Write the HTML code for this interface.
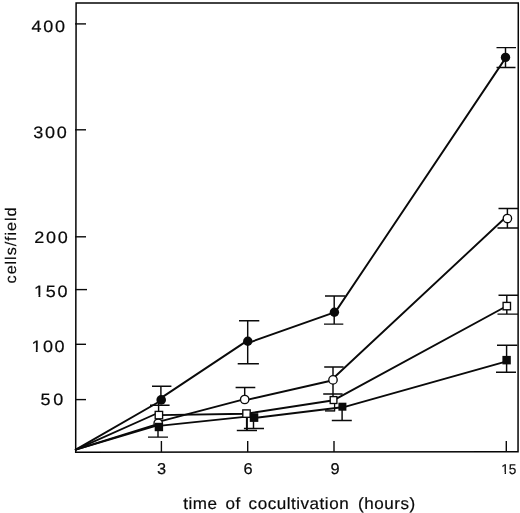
<!DOCTYPE html>
<html>
<head>
<meta charset="utf-8">
<title>cells/field vs time of cocultivation</title>
<style>
html,body{margin:0;padding:0;background:#fff;}
body{width:520px;height:513px;overflow:hidden;font-family:"Liberation Sans",sans-serif;}
svg{display:block;filter:grayscale(1);}
text{font-family:"Liberation Sans",sans-serif;fill:#0a0a0a;text-rendering:geometricPrecision;}
</style>
</head>
<body>
<svg width="520" height="513" viewBox="0 0 520 513">
<rect x="0" y="0" width="520" height="513" fill="#ffffff"/>

<!-- frame -->
<polygon points="76.1,2.9 518.3,2.9 518.05,451.85 75.7,452.2" fill="none" stroke="#050505" stroke-width="1.5" stroke-linejoin="miter"/>

<!-- y ticks -->
<g stroke="#0a0a0a" stroke-width="1.4" fill="none">
<line x1="75" y1="23.9" x2="86" y2="23.9"/>
<line x1="75" y1="129.8" x2="86" y2="129.8"/>
<line x1="75" y1="236.8" x2="86" y2="236.8"/>
<line x1="75" y1="289.6" x2="87" y2="289.6"/>
<line x1="75" y1="344.3" x2="86" y2="344.3"/>
<line x1="75" y1="399.6" x2="86" y2="399.6"/>
<!-- x ticks -->
<line x1="161.4" y1="441" x2="161.4" y2="452"/>
<line x1="247.7" y1="441" x2="247.7" y2="452"/>
<line x1="334" y1="441" x2="334" y2="452"/>
<line x1="506.3" y1="441" x2="506.3" y2="452"/>
</g>

<!-- error bars -->
<g stroke="#0a0a0a" stroke-width="1.45" fill="none">
<!-- filled circle -->
<path d="M152 386.2H171.4M160.9 386.2V399"/>
<path d="M239 320.7H259.3M237.7 363.8H258.9M247.7 320.7V363.8"/>
<path d="M325 296H345.2M324 324.1H343.3M334.2 296V324.1"/>
<path d="M496.5 47.6H516M496.5 67.4H515.5M505.5 47.6V67.4"/>
<!-- open circle -->
<path d="M235.6 387.5H255.3M244.7 387.5V399"/>
<path d="M324.2 367H343.6M323.2 394H342.6M333 367V399"/>
<path d="M498.5 208.5H518M497.5 227.9H518M507.4 208.5V227.9"/>
<!-- open square -->
<path d="M150 405.2H169.6M158.6 399V414"/>
<path d="M236.8 430.5H257"/>
<path d="M246.9 417V430.5" stroke-width="2"/>
<path d="M325 410.9H334.6"/>
<path d="M334.6 403.5V411.4" stroke-width="1.3"/>
<path d="M498.5 295.3H518M497.5 314.1H518M506.8 295.3V314.1"/>
<!-- filled square -->
<path d="M148 437.1H168M158 430V437.1"/>
<path d="M243.9 428.4H264M253.5 421V428.4"/>
<path d="M331.8 420.5H351.8M342.1 410V420.5"/>
<path d="M497 345.3H517.4M496 372.3H516M506.6 345.3V372.3"/>
</g>

<!-- series lines -->
<g stroke="#0a0a0a" stroke-width="1.9" fill="none" stroke-linecap="round">
<!-- A filled circle -->
<path d="M75.8 449.6L161.2 400.5M161.2 397.9L247.7 340.4M247.7 343.1L334.4 312.3M335.3 312.1L506 57.4"/>
<!-- B open circle -->
<path d="M75.8 449.6L158.2 423.8M158.2 421.8L244.7 399.2M244.7 400.4L333 380.2M333 378.5L507.4 215.8"/>
<!-- C open square -->
<path d="M75.8 449.6L158.9 412.5M158.9 415.1L246.5 413.7M246.5 413.7L333.8 400.2M333.8 400.2L506.8 306"/>
<!-- D filled square -->
<path d="M75.8 449.6L158.2 425.2M158.9 425.9L254 415.9M254 418L342.1 407.2M342.1 407.6L506.6 361.3"/>
</g>

<!-- markers: open circles -->
<g stroke="#0a0a0a" stroke-width="1.35" fill="#fff">
<circle cx="158.2" cy="423.3" r="4.2"/>
<circle cx="244.7" cy="399.5" r="4.2"/>
<circle cx="333" cy="379.9" r="4.2"/>
<circle cx="507.4" cy="218.5" r="4.2"/>
</g>
<!-- open squares -->
<g stroke="#0a0a0a" stroke-width="1.35" fill="#fff">
<rect x="155.2" y="411.4" width="7.4" height="7.4"/>
<rect x="242.8" y="409.9" width="7.4" height="7.4"/>
<rect x="330.2" y="396.6" width="6.7" height="6.9"/>
<rect x="503.1" y="302.4" width="7.4" height="7.4"/>
</g>
<!-- filled squares -->
<g fill="#0a0a0a">
<rect x="154.7" y="422.8" width="8.4" height="8.4"/>
<rect x="249.8" y="413.2" width="8.5" height="8.7"/>
<rect x="338.4" y="402.7" width="8" height="8"/>
<rect x="502.4" y="355.9" width="8.4" height="8.5"/>
</g>
<!-- filled circles -->
<g fill="#0a0a0a">
<circle cx="161.2" cy="399.9" r="4.8"/>
<circle cx="247.8" cy="341.2" r="4.7"/>
<circle cx="334.4" cy="312.3" r="4.7"/>
<circle cx="505.5" cy="57.4" r="4.7"/>
</g>

<!-- y labels -->
<g font-size="16.4" stroke="#0a0a0a" stroke-width="0.2">
<g transform="translate(31.5,32.1) scale(1.1,1)"><text letter-spacing="1.55">400</text></g>
<g transform="translate(33.3,138.0) scale(1.1,1)"><text letter-spacing="1.55">300</text></g>
<g transform="translate(34.2,243.0) scale(1.1,1)"><text letter-spacing="1.55">200</text></g>
<g transform="translate(34.1,297.3) scale(1.1,1)"><text letter-spacing="1.55">150</text><rect x="0.55" y="-2.4" width="3.47" height="3.5" fill="#fff" stroke="none"/><rect x="5.67" y="-2.4" width="3.35" height="3.5" fill="#fff" stroke="none"/></g>
<g transform="translate(31.4,352.1) scale(1.1,1)"><text letter-spacing="1.35">100</text><rect x="0.55" y="-2.4" width="3.47" height="3.5" fill="#fff" stroke="none"/><rect x="5.67" y="-2.4" width="3.35" height="3.5" fill="#fff" stroke="none"/></g>
<g transform="translate(40.6,405.1) scale(1.1,1)"><text letter-spacing="2.35">50</text></g>
</g>

<!-- x labels -->
<g font-size="15.6" stroke="#0a0a0a" stroke-width="0.2">
<text transform="translate(156.9,474.3) scale(1.05,1)">3</text>
<text transform="translate(243.6,474.3) scale(1.05,1)">6</text>
<text transform="translate(330.5,474.3) scale(1.05,1)">9</text>
<g transform="translate(501.3,474.3) scale(0.96,1)"><text font-size="14.2">15</text><rect x="0.38" y="-2.2" width="3.09" height="3.3" fill="#fff" stroke="none"/><rect x="4.93" y="-2.2" width="2.98" height="3.3" fill="#fff" stroke="none"/></g>
</g>

<!-- x title -->
<g font-size="16.4" letter-spacing="0.5" stroke="#0a0a0a" stroke-width="0.2">
<text transform="translate(183.2,508.9) scale(1.04,1)">time</text>
<text transform="translate(225.6,508.9) scale(1.04,1)">of</text>
<text transform="translate(248.6,508.9) scale(1.04,1)">cocultivation</text>
<text transform="translate(358.1,508.9) scale(1.04,1)">(hours)</text>
</g>

<!-- y title -->
<text font-size="15.4" letter-spacing="0.86" stroke="#0a0a0a" stroke-width="0.15" transform="translate(15.9,283.4) rotate(-90) scale(1.057,1)">cells/field</text>
</svg>
</body>
</html>
